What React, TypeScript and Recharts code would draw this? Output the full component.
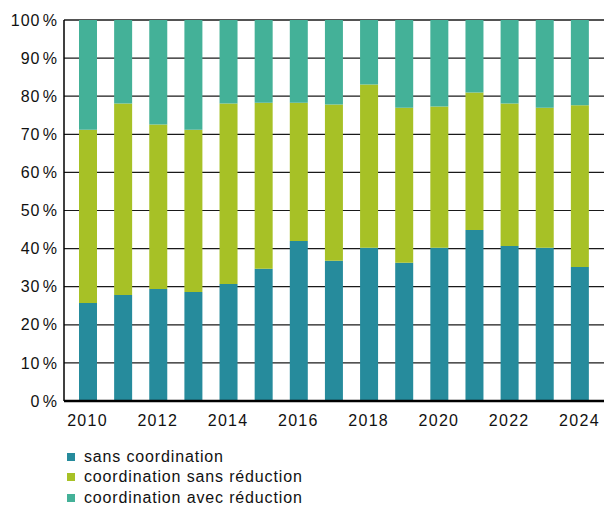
import React from 'react';
import { BarChart, Bar, XAxis, YAxis, CartesianGrid, Legend } from 'recharts';

const years = ['2010', '2011', '2012', '2013', '2014', '2015', '2016', '2017', '2018', '2019', '2020', '2021', '2022', '2023', '2024'];
const sansCoordination = [25.7, 27.8, 29.4, 28.6, 30.7, 34.7, 42.0, 36.8, 40.2, 36.3, 40.2, 44.9, 40.7, 40.2, 35.2];
const coordSansReduction = [45.5, 50.3, 43.2, 42.6, 47.4, 43.6, 36.3, 41.0, 42.9, 40.7, 37.1, 36.1, 37.4, 36.8, 42.4];
const coordAvecReduction = [28.8, 21.9, 27.4, 28.8, 21.9, 21.7, 21.7, 22.2, 16.9, 23.0, 22.7, 19.0, 21.9, 23.0, 22.4];
const yTicks = [0, 10, 20, 30, 40, 50, 60, 70, 80, 90, 100];

const series = [
  { key: 'sans', name: 'sans coordination', color: '#268b9c', values: sansCoordination },
  { key: 'sansRed', name: 'coordination sans réduction', color: '#a7c126', values: coordSansReduction },
  { key: 'avecRed', name: 'coordination avec réduction', color: '#44b198', values: coordAvecReduction },
];

const data = years.map((year, i) => {
  const row: Record<string, string | number> = { year };
  series.forEach((s) => { row[s.key] = s.values[i]; });
  return row;
});

const font = '"Liberation Sans", Arial, Helvetica, sans-serif';

const renderLegend = () => (
  <div style={{ fontFamily: font, fontSize: 16, letterSpacing: 0.85, color: '#111' }}>
    {series.map((s) => (
      <div key={s.key} style={{ display: 'flex', alignItems: 'center', height: 20.3 }}>
        <span style={{ width: 8, height: 8, background: s.color, display: 'inline-block', marginRight: 9 }} />
        <span>{s.name}</span>
      </div>
    ))}
  </div>
);

const App: React.FC = () => {
  return (
    <div style={{ position: 'absolute', left: 0, top: 0, background: '#fff' }}>
      <BarChart
        width={606}
        height={507}
        data={data}
        margin={{ top: 20, right: 2, left: 0, bottom: 76 }}
        barSize={18}
      >
        <CartesianGrid vertical={false} stroke="#1a1a1a" strokeWidth={1.2} />
        <XAxis
          dataKey="year"
          interval={1}
          height={30}
          padding={{ left: 6, right: 7 }}
          tickLine={false}
          tickMargin={8}
          axisLine={{ stroke: '#000', strokeWidth: 2.5 }}
          tick={{ fill: '#111', fontSize: 16, fontFamily: font, letterSpacing: 1.3 }}
        />
        <YAxis
          width={64}
          domain={[0, 100]}
          ticks={yTicks}
          interval={0}
          tickLine={false}
          tickSize={0}
          tickMargin={6}
          axisLine={{ stroke: '#000', strokeWidth: 1.5 }}
          tickFormatter={(v: number) => `${v}\u200A%`}
          tick={{ fill: '#111', fontSize: 16, fontFamily: font, letterSpacing: 1 }}
        />
        <YAxis
          yAxisId="right"
          orientation="right"
          width={0}
          domain={[0, 100]}
          tick={false}
          tickLine={false}
          axisLine={{ stroke: '#888', strokeWidth: 2 }}
        />
        <Legend
          layout="horizontal"
          verticalAlign="middle"
          align="center"
          content={renderLegend}
          wrapperStyle={{ top: 447, left: 67, width: 320, height: 62 }}
        />
        {series.map((s) => (
          <Bar key={s.key} dataKey={s.key} name={s.name} stackId="a" fill={s.color} isAnimationActive={false} />
        ))}
      </BarChart>
    </div>
  );
};

export default App;
